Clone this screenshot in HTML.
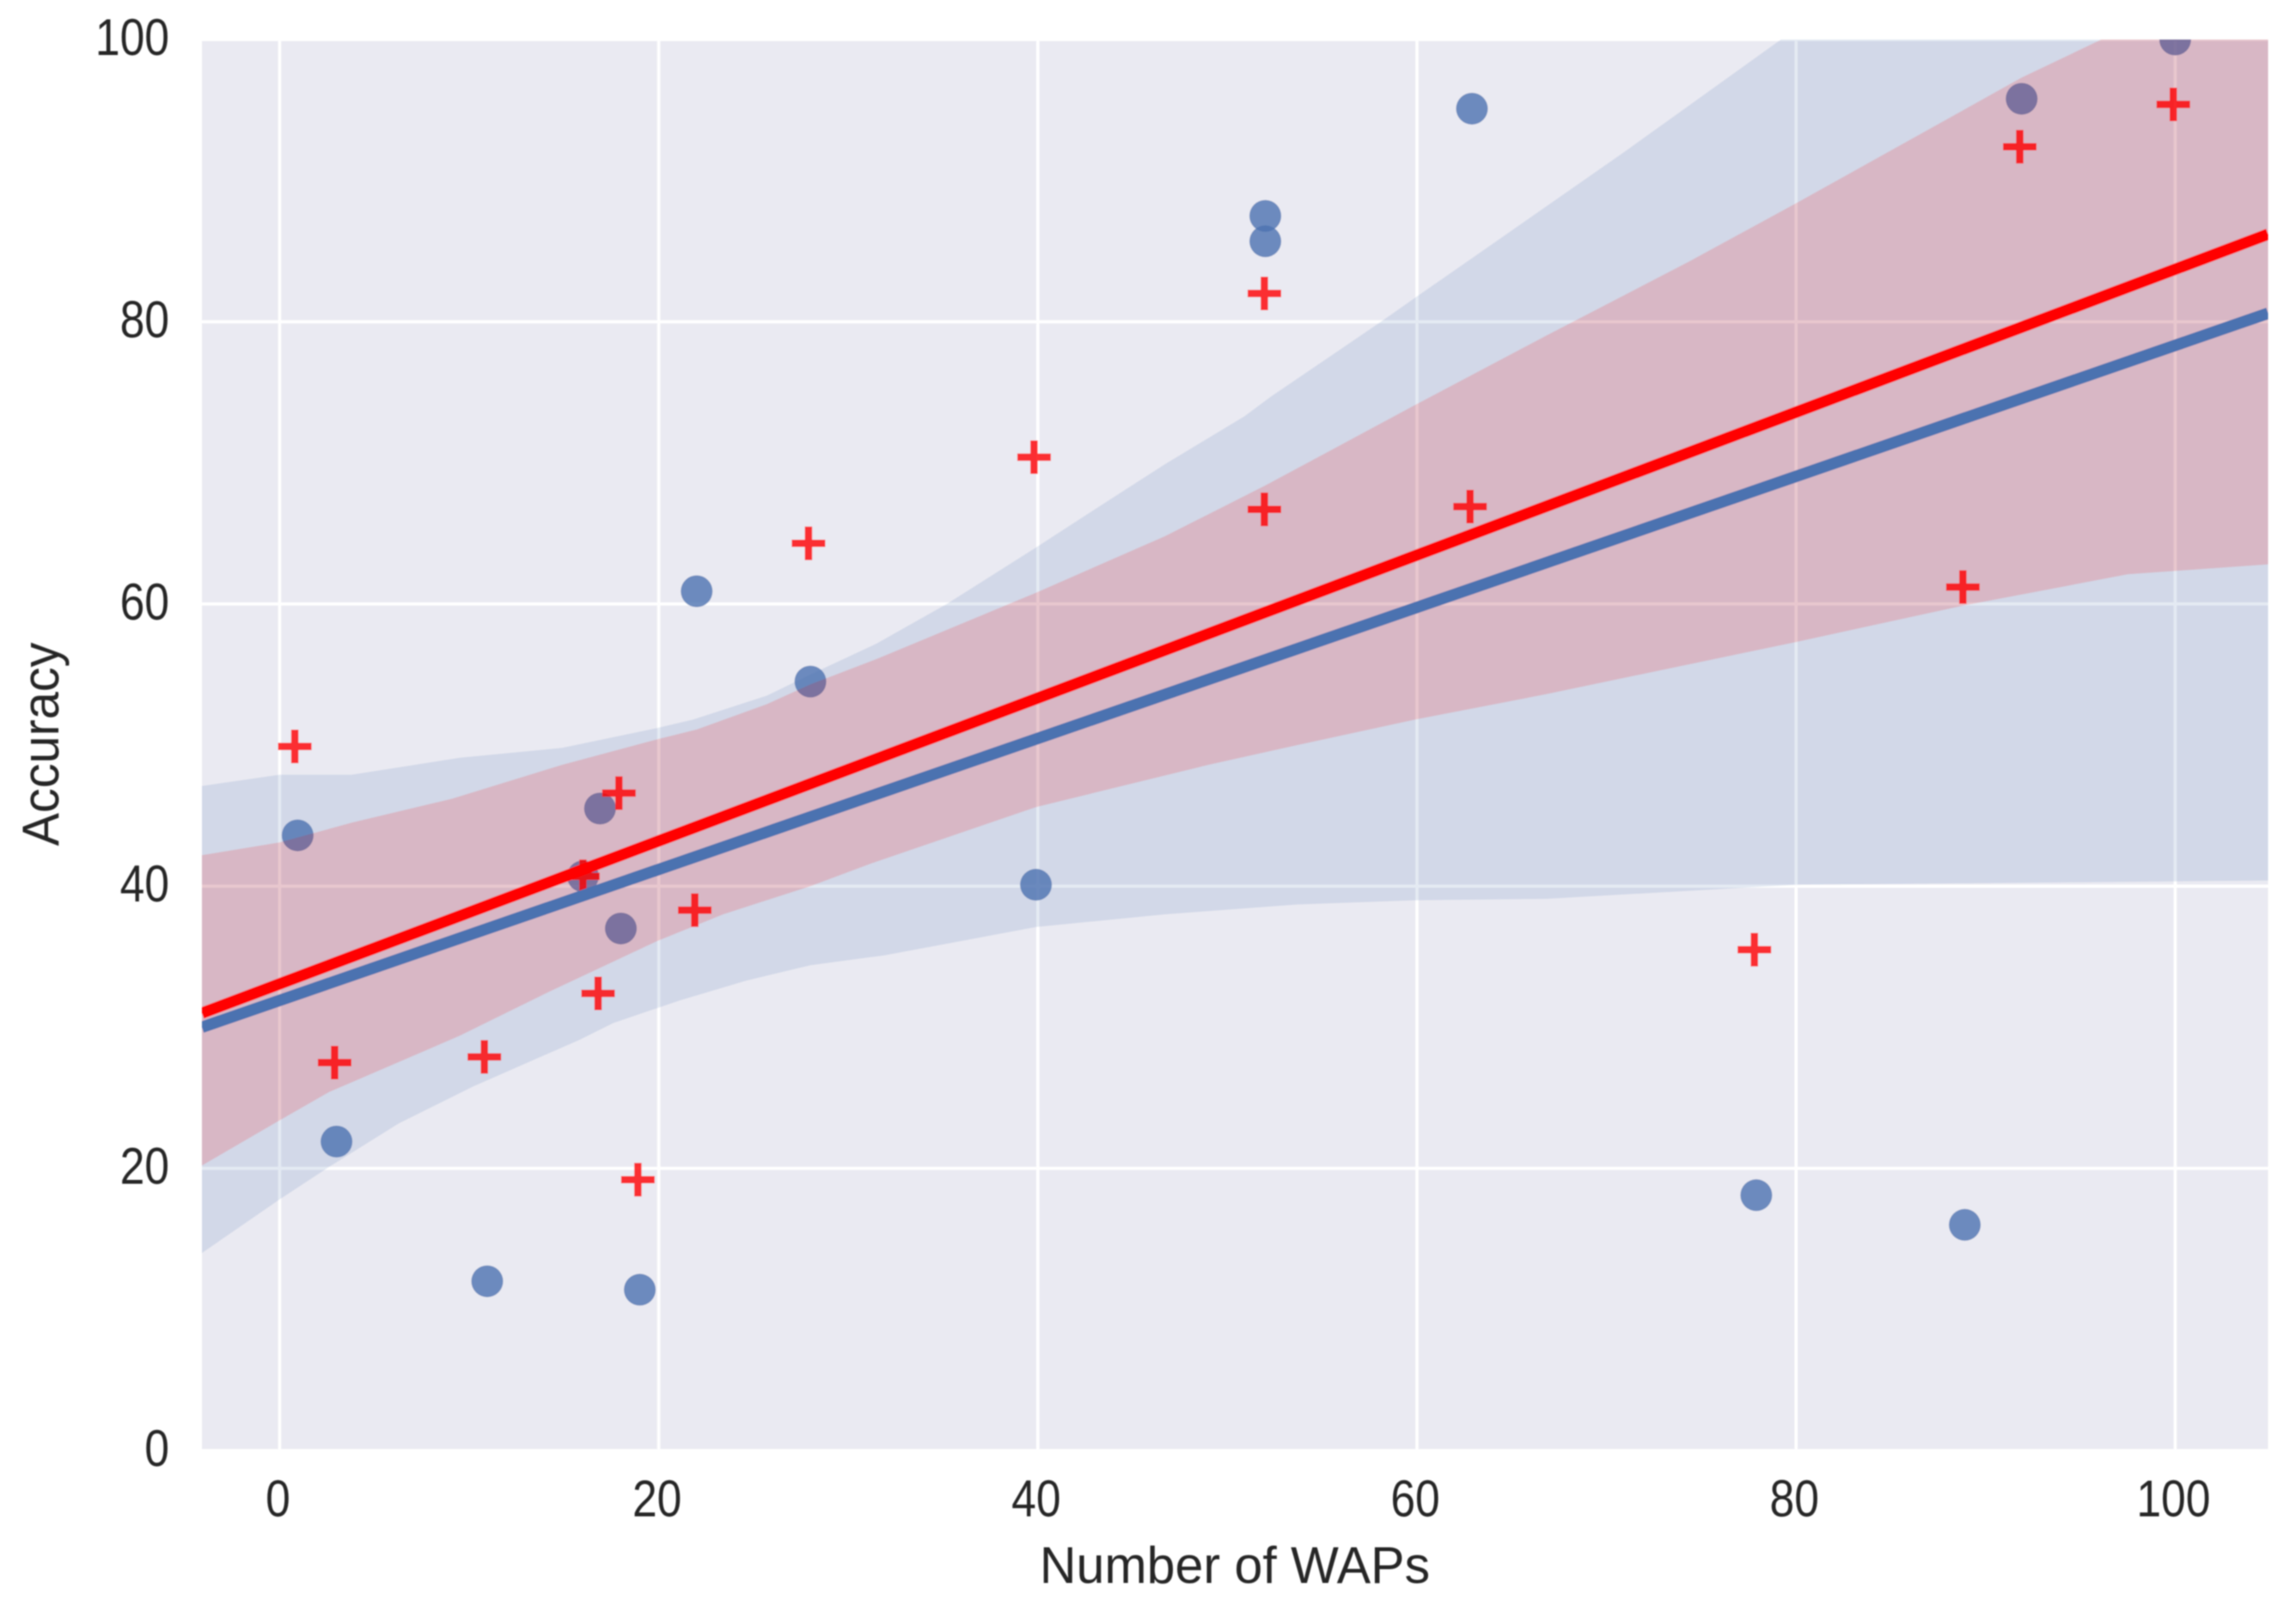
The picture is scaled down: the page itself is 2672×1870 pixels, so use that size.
<!DOCTYPE html>
<html lang="en">
<head>
<meta charset="utf-8">
<title>Accuracy vs Number of WAPs</title>
<style>
  html, body { margin: 0; padding: 0; background: #ffffff; }
  #chart { display: block; width: 2672px; height: 1870px; }
  text { font-family: "Liberation Sans", Arial, sans-serif; fill: #262626; }
</style>
</head>
<body>
<svg id="chart" xmlns="http://www.w3.org/2000/svg" width="2672" height="1870" viewBox="0 0 2672 1870">
  <defs>
    <clipPath id="plot-clip"><rect id="plot-clip-rect"></rect></clipPath>
    <filter id="soft" filterUnits="userSpaceOnUse" x="0" y="0" width="2672" height="1870"><feGaussianBlur stdDeviation="0.9"></feGaussianBlur></filter>
    <filter id="soft-text" filterUnits="userSpaceOnUse" x="0" y="0" width="2672" height="1870"><feGaussianBlur stdDeviation="0.9"></feGaussianBlur></filter>
  </defs>
  <g filter="url(#soft)">
    <rect id="plot-bg" fill="#EAEAF2"></rect>
    <g id="plot" clip-path="url(#plot-clip)">
      <g id="grid"></g>
      <g id="blue-points"></g>
      <path id="blue-band" fill="#4C72B0" fill-opacity="0.15"></path>
      <g id="red-points"></g>
      <path id="red-band" fill="#FF0000" fill-opacity="0.15"></path>
      <line id="blue-line" stroke="#4C72B0" stroke-width="13.5"></line>
      <line id="red-line" stroke="#FF0000" stroke-width="13.5"></line>
    </g>
  </g>
  <g id="labels" filter="url(#soft-text)">
    <g id="x-ticks"></g>
    <g id="y-ticks"></g>
    <text transform="translate(1437,1842) scale(0.985,1)" font-size="60" text-anchor="middle">Number of WAPs</text>
    <text transform="translate(68,866) rotate(-90) scale(0.96,1)" font-size="60" text-anchor="middle">Accuracy</text>
  </g>
</svg>
<script>
const xTicks = [0, 20, 40, 60, 80, 100];
const yTicks = [0, 20, 40, 60, 80, 100];
const xDomain = [-4.1, 104.9];
const yDomain = [0, 100];

const blueX = [0.95, 3, 10.95, 16, 16.9, 18, 19, 22, 28, 39.9, 52, 52, 62.9, 77.9, 88.9, 91.9, 100];
const blueY = [43.6, 21.9, 12, 40.7, 45.5, 37, 11.4, 60.9, 54.5, 40.1, 87.5, 85.7, 95.1, 18.1, 16, 95.8, 100];

const redX = [0.8, 2.9, 10.8, 16, 16.8, 17.9, 18.9, 21.9, 27.9, 39.8, 51.95, 51.95, 62.8, 77.8, 88.8, 91.8, 99.9];
const redY = [49.9, 27.5, 27.9, 40.7, 32.4, 46.6, 19.2, 38.3, 64.3, 70.4, 82, 66.7, 66.9, 35.5, 61.2, 92.4, 95.4];

const fitX = [-4.1, 104.9];
const blueFit = [30.0, 80.6];
const redFit = [31.0, 86.2];

const blueUpperX = [-4.1, 0, 3.8, 9.5, 14.9, 19.9, 21.8, 25.7, 28, 31.5, 35.2, 39.9, 43, 46.7, 50.9, 52.3, 58.1, 59.9, 62.9, 70.9, 79.2, 104.9];
const blueUpperY = [47.1, 47.9, 47.9, 49.1, 49.8, 51.2, 51.8, 53.5, 55, 57.2, 60, 64, 66.7, 69.9, 73.3, 74.7, 80, 81.7, 84.5, 92, 100, 124];
const blueLowerX = [-4.1, 0, 2.6, 6.3, 10.2, 15.8, 17.6, 21.1, 24.6, 28, 31.9, 39.9, 46.7, 53.7, 59.9, 66.8, 80, 104.9];
const blueLowerY = [14, 17.8, 20.1, 23.2, 25.8, 29.1, 30.3, 31.9, 33.3, 34.4, 35.1, 37.1, 38, 38.7, 39, 39.1, 40.1, 40.4];

const redUpperX = [-4.1, 0, 3.8, 9.1, 14.9, 19.9, 22, 25.7, 28, 31.5, 39.9, 46.7, 52, 59.9, 66.8, 74.4, 80, 91.9, 96.1, 104.9];
const redUpperY = [42.2, 43.1, 44.5, 46.2, 48.6, 50.4, 51.1, 52.9, 54.3, 56.1, 60.8, 64.8, 68.4, 74.1, 79, 84.3, 88.4, 97.3, 100, 106];
const redLowerX = [-4.1, 0, 2.6, 9.5, 14.2, 19.9, 23.4, 28, 31.2, 39.9, 49, 53.7, 59.9, 66.8, 80, 88.9, 97.5, 104.9];
const redLowerY = [20.2, 23.4, 25.4, 29.4, 32.5, 36.1, 38, 40, 41.6, 45.6, 48.6, 50, 51.8, 53.6, 57.3, 59.9, 62.1, 62.8];

const plotLeft = 235, plotRight = 2639.5, plotTop = 46, plotBottom = 1688;
const NS = 'http://www.w3.org/2000/svg';

function sx(v) {
  return plotLeft + (v - xDomain[0]) / (xDomain[1] - xDomain[0]) * (plotRight - plotLeft);
}
function sy(v) {
  return plotBottom - (v - yDomain[0]) / (yDomain[1] - yDomain[0]) * (plotBottom - plotTop);
}
function make(tag, parent) {
  const el = document.createElementNS(NS, tag);
  parent.appendChild(el);
  return el;
}
function place(el, x, y, w, h) {
  el.setAttribute('x', x);
  el.setAttribute('y', y);
  el.setAttribute('width', w);
  el.setAttribute('height', h);
}
place(document.getElementById('plot-bg'), plotLeft, plotTop, plotRight - plotLeft, plotBottom - plotTop);
place(document.getElementById('plot-clip-rect'), plotLeft, plotTop, plotRight - plotLeft, plotBottom - plotTop);

const grid = document.getElementById('grid');
const xTickGroup = document.getElementById('x-ticks');
const yTickGroup = document.getElementById('y-ticks');
const tickSqueeze = 0.86;

xTicks.forEach(function (t) {
  const line = make('line', grid);
  
  
  line.setAttribute('x1', sx(t));
  line.setAttribute('x2', sx(t));
  line.setAttribute('y1', plotTop);
  line.setAttribute('y2', plotBottom);
  line.setAttribute('stroke', '#ffffff');
  line.setAttribute('stroke-width', '3.6');
  const label = make('text', xTickGroup);
  
  
  label.setAttribute('transform', 'translate(' + (sx(t) - 2) + ',1764.5) scale(' + tickSqueeze + ',1)');
  label.setAttribute('font-size', '60');
  label.setAttribute('text-anchor', 'middle');
  label.textContent = String(t);
});

yTicks.forEach(function (t) {
  const line = make('line', grid);
  
  
  line.setAttribute('x1', plotLeft);
  line.setAttribute('x2', plotRight);
  line.setAttribute('y1', sy(t));
  line.setAttribute('y2', sy(t));
  line.setAttribute('stroke', '#ffffff');
  line.setAttribute('stroke-width', '3.6');
  const label = make('text', yTickGroup);
  
  
  label.setAttribute('transform', 'translate(197,' + (sy(t) + 18) + ') scale(' + tickSqueeze + ',1)');
  label.setAttribute('font-size', '60');
  label.setAttribute('text-anchor', 'end');
  label.textContent = String(t);
});

function bandPath(ux, uy, lx, ly) {
  const pts = [];
  ux.forEach(function (x, i) { pts.push(sx(x).toFixed(1) + ',' + sy(uy[i]).toFixed(1)); });
  for (let i = lx.length - 1; i >= 0; i--) {
    pts.push(sx(lx[i]).toFixed(1) + ',' + sy(ly[i]).toFixed(1));
  }
  return 'M' + pts.join('L') + 'Z';
}
document.getElementById('blue-band').setAttribute('d', bandPath(blueUpperX, blueUpperY, blueLowerX, blueLowerY));
document.getElementById('red-band').setAttribute('d', bandPath(redUpperX, redUpperY, redLowerX, redLowerY));

function setLine(id, ys) {
  const el = document.getElementById(id);
  el.setAttribute('x1', sx(fitX[0]));
  el.setAttribute('y1', sy(ys[0]));
  el.setAttribute('x2', sx(fitX[1]));
  el.setAttribute('y2', sy(ys[1]));
}
setLine('blue-line', blueFit);
setLine('red-line', redFit);

const bluePoints = document.getElementById('blue-points');
blueX.forEach(function (x, i) {
  const c = make('circle', bluePoints);
  
  
  c.setAttribute('cx', sx(x));
  c.setAttribute('cy', sy(blueY[i]));
  c.setAttribute('r', '18.5');
  c.setAttribute('fill', '#4C72B0');
  c.setAttribute('fill-opacity', '0.8');
});

const redPoints = document.getElementById('red-points');
const plusArm = 19.5;
redX.forEach(function (x, i) {
  const px = sx(x), py = sy(redY[i]);
  const p = make('path', redPoints);
  
  
  p.setAttribute('d', 'M' + (px - plusArm) + ' ' + py + 'H' + (px + plusArm) + 'M' + px + ' ' + (py - plusArm) + 'V' + (py + plusArm));
  p.setAttribute('fill', 'none');
  p.setAttribute('stroke', '#FF0000');
  p.setAttribute('stroke-width', '8.5');
  p.setAttribute('stroke-opacity', '0.8');
});
</script>
</body>
</html>
